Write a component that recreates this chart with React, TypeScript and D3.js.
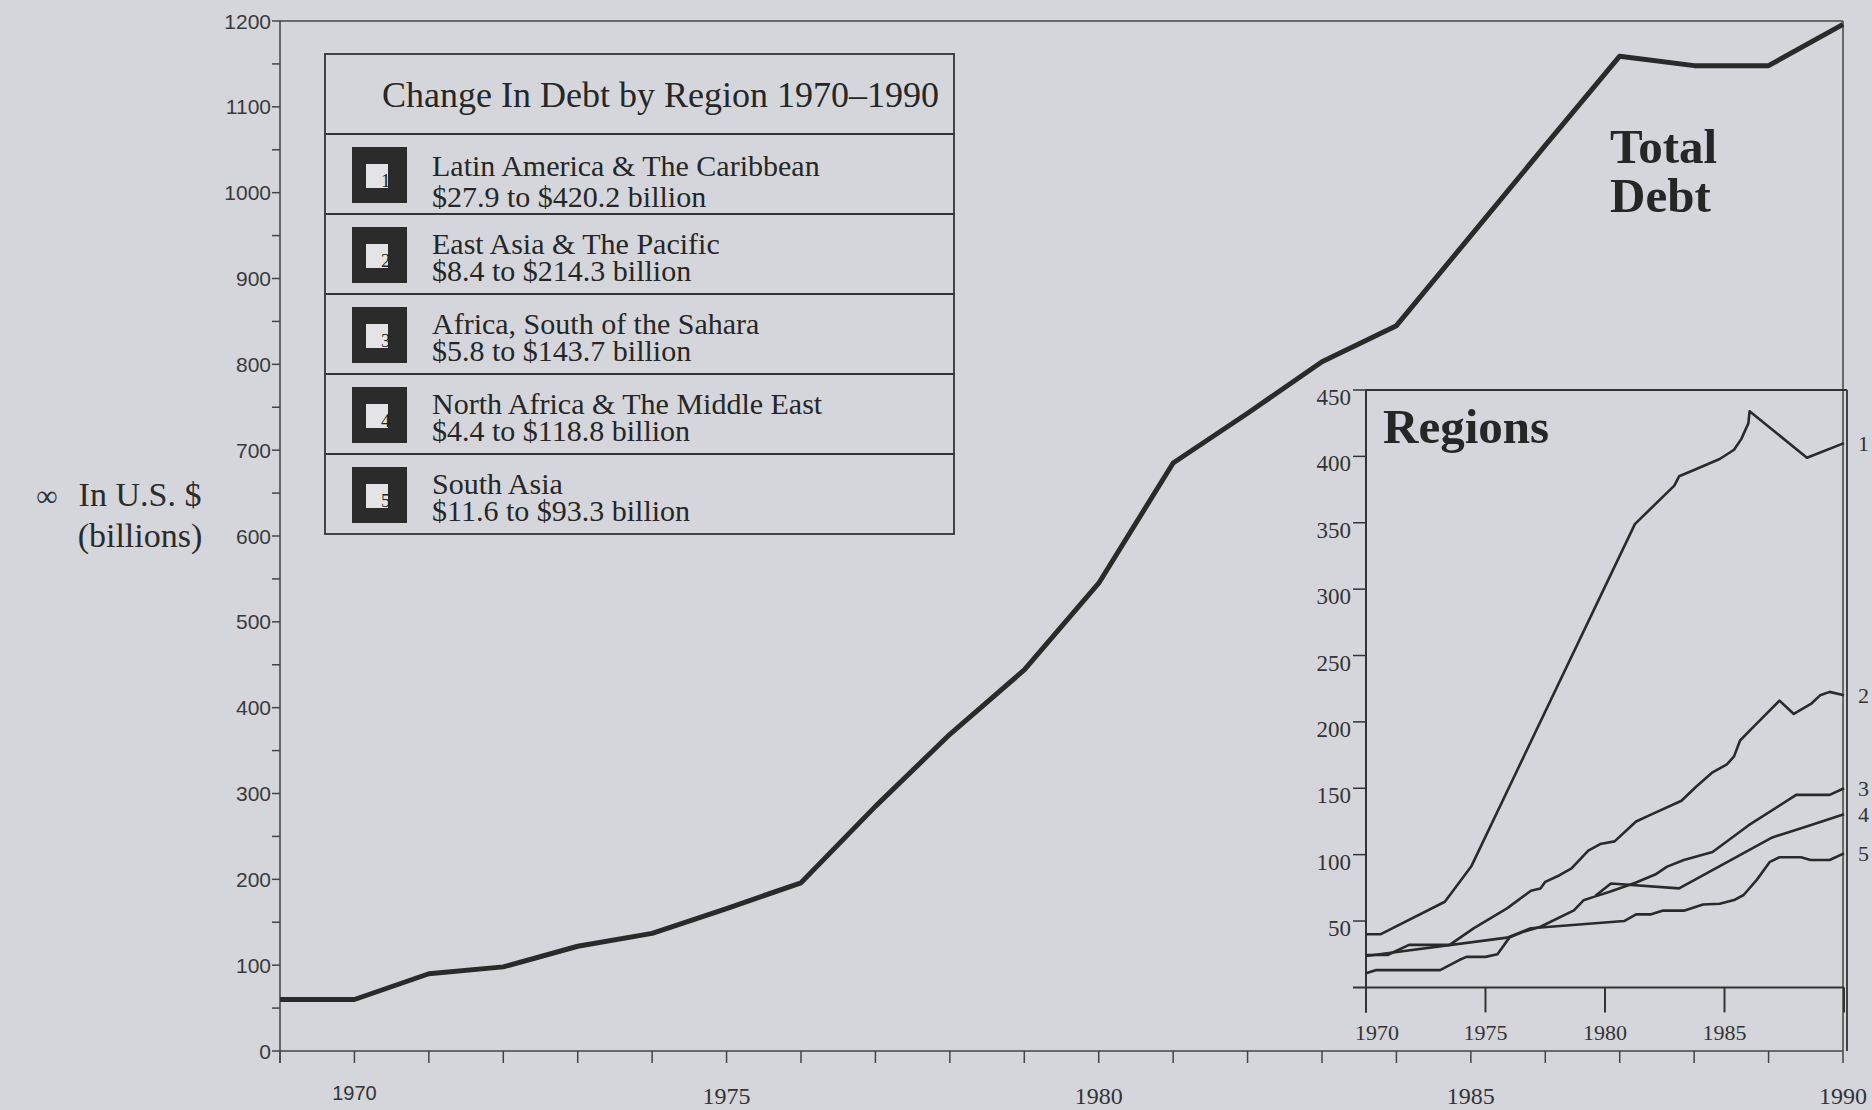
import React, { useEffect } from "react";
import * as d3 from "d3";

const W = 1872;
const H = 1110;
const PAPER = "#d5d6db";
const INK = "#2a2a2a";
const SERIF = "'Liberation Serif', 'Times New Roman', serif";
const SANS = "'Liberation Sans', Arial, sans-serif";

// total debt, billions of US$
const totalYears = [1969, 1970, 1971, 1972, 1973, 1974, 1975, 1976, 1977, 1978, 1979, 1980, 1981, 1982, 1983, 1984, 1985, 1986, 1987, 1988, 1989, 1990];
const totalDebt = [60, 60, 90, 98, 122, 137, 166, 196, 285, 369, 444, 545, 685, 743, 803, 845, 950, 1055, 1159, 1148, 1148, 1196];

const mainYTicks = [0, 50, 100, 150, 200, 250, 300, 350, 400, 450, 500, 550, 600, 650, 700, 750, 800, 850, 900, 950, 1000, 1050, 1100, 1150, 1200];
const mainYLabels = [0, 100, 200, 300, 400, 500, 600, 700, 800, 900, 1000, 1100, 1200];
const mainXLabels = [1970, 1975, 1980, 1985, 1990];

// regional series [year, billions]
const latinAmerica: [number, number][] = [
  [1970, 40], [1970.6, 40], [1973.3, 64.5], [1974.4, 91], [1981.25, 349], [1982.9, 378],
  [1983.1, 385], [1983.7, 389.5], [1984.8, 398], [1985.4, 405], [1985.7, 413], [1986.0, 425],
  [1986.05, 434], [1988.45, 399], [1990, 410],
];
const eastAsia: [number, number][] = [
  [1970, 24.4], [1970.9, 24.4], [1971.8, 32], [1973.5, 32], [1974.5, 44.5], [1975.9, 59.5],
  [1976.9, 72.8], [1977.3, 74.5], [1977.5, 79.5], [1978.1, 84.5], [1978.6, 89.6], [1979.3, 103],
  [1979.8, 108], [1980.4, 110], [1981.3, 125], [1981.9, 130], [1983.2, 140.6], [1983.8, 151],
  [1984.5, 162], [1985.1, 168], [1985.4, 174], [1985.65, 186], [1986.2, 196], [1987.3, 216],
  [1987.9, 206], [1988.65, 214], [1989.0, 220], [1989.4, 222.6], [1990, 220],
];
const africaSouth: [number, number][] = [
  [1970, 10.6], [1970.4, 13], [1973.1, 13], [1973.9, 20.6], [1974.2, 23], [1975.0, 23],
  [1975.5, 25], [1976, 37.5], [1976.6, 42], [1977.3, 45.7], [1978.7, 58], [1979.1, 65.6],
  [1979.5, 68], [1980.2, 72], [1981.3, 79], [1982.1, 85], [1982.6, 91], [1983.3, 96],
  [1984.5, 102], [1986.0, 122], [1988.0, 145], [1989.4, 145], [1990, 150],
];
const northAfrica: [number, number][] = [
  [1979.6, 69], [1980.25, 78.3], [1983.1, 74.6], [1987.0, 113], [1988.4, 121], [1990, 130.5],
];
const southAsia: [number, number][] = [
  [1970, 23.6], [1975.9, 37.5], [1976.9, 44.5], [1980.8, 50], [1981.3, 55], [1981.9, 55],
  [1982.4, 57.8], [1983.3, 57.8], [1984.1, 62.5], [1984.8, 63], [1985.4, 65.8], [1985.8, 69.6],
  [1986.35, 81], [1986.9, 94.6], [1987.3, 98], [1988.2, 98], [1988.6, 96], [1989.4, 96], [1990, 101],
];
const regionSeries = [latinAmerica, eastAsia, africaSouth, northAfrica, southAsia];
const seriesNumbers = ["1", "2", "3", "4", "5"];

const insetYLabels = [50, 100, 150, 200, 250, 300, 350, 400, 450];
const insetXTicks = [1970, 1975, 1980, 1985, 1990];
const insetXLabels = [1970, 1975, 1980, 1985];

const legendTitle = "Change In Debt by Region 1970\u20131990";
const legendNames = [
  "Latin America & The Caribbean",
  "East Asia & The Pacific",
  "Africa, South of the Sahara",
  "North Africa & The Middle East",
  "South Asia",
];
const legendRanges = [
  "$27.9 to $420.2 billion",
  "$8.4 to $214.3 billion",
  "$5.8 to $143.7 billion",
  "$4.4 to $118.8 billion",
  "$11.6 to $93.3 billion",
];

export default function App() {
  useEffect(() => {
    document.body.style.margin = "0";
    document.body.style.background = PAPER;
  }, []);

  // main chart
  const x = d3.scaleLinear().domain([1969, 1990]).range([280, 1843]);
  const y = d3.scaleLinear().domain([0, 1200]).range([1051, 21]);
  // inset
  const xi = d3.scaleLinear().domain([1970, 1990]).range([1366, 1844]);
  const yi = d3.scaleLinear().domain([0, 450]).range([987.4, 390]);

  const totalLine = d3
    .line<number>()
    .x((_, i) => x(totalYears[i]))
    .y((d) => y(d));
  const regionLine = d3
    .line<[number, number]>()
    .x((d) => xi(d[0]))
    .y((d) => yi(d[1]));

  const legend = { left: 325, right: 954, top: 54, head: 80, row: 80 };

  return (
    <svg
      width={W}
      height={H}
      style={{ display: "block", position: "absolute", left: 0, top: 0, background: PAPER }}
    >
      {/* frame of main chart */}
      <line x1={x(1969)} x2={x(1990)} y1={y(1200)} y2={y(1200)} stroke="#444" strokeWidth={1.5} />
      <line x1={x(1990)} x2={x(1990)} y1={y(1200)} y2={y(0)} stroke="#444" strokeWidth={1.5} />
      <line x1={x(1969)} x2={x(1969)} y1={y(1200)} y2={y(0) + 12} stroke="#444" strokeWidth={1.5} />
      <line x1={x(1969)} x2={x(1990)} y1={y(0)} y2={y(0)} stroke="#444" strokeWidth={1.5} />

      {mainYTicks.map((t) => (
        <line key={"yt" + t} x1={x(1969) - 8} x2={x(1969)} y1={y(t)} y2={y(t)} stroke="#444" strokeWidth={1.5} />
      ))}
      {mainYLabels.map((t) => (
        <text key={"yl" + t} x={x(1969) - 9} y={y(t)} dy="0.36em" textAnchor="end" fontFamily={SANS} fontSize={21} fill="#3a3a3a">
          {t}
        </text>
      ))}
      {totalYears.map((t) => (
        <line key={"xt" + t} x1={x(t)} x2={x(t)} y1={y(0)} y2={y(0) + 12} stroke="#444" strokeWidth={1.5} />
      ))}
      {mainXLabels.map((t) => (
        <text
          key={"xl" + t}
          x={x(t)}
          y={t === 1970 ? 1100 : 1104}
          textAnchor="middle"
          fontFamily={t === 1970 ? SANS : SERIF}
          fontSize={t === 1970 ? 20 : 24}
          fill="#333"
        >
          {t}
        </text>
      ))}

      {/* axis title */}
      <text x={47} y={497} dy="0.3em" textAnchor="middle" fontFamily={SERIF} fontSize={30} fill="#333">
        ∞
      </text>
      <text x={140} y={506} textAnchor="middle" fontFamily={SERIF} fontSize={34} fill="#2b2b2b">
        In U.S. $
      </text>
      <text x={140} y={547} textAnchor="middle" fontFamily={SERIF} fontSize={34} fill="#2b2b2b">
        (billions)
      </text>

      {/* total debt line */}
      <path d={totalLine(totalDebt) || ""} fill="none" stroke={INK} strokeWidth={5} strokeLinejoin="round" />
      <text x={1610} y={163} fontFamily={SERIF} fontWeight="bold" fontSize={49} fill="#262626">
        Total
      </text>
      <text x={1610} y={212} fontFamily={SERIF} fontWeight="bold" fontSize={49} fill="#262626">
        Debt
      </text>

      {/* legend box */}
      <g>
        <rect
          x={legend.left}
          y={legend.top}
          width={legend.right - legend.left}
          height={legend.head + legend.row * 5}
          fill="none"
          stroke="#333"
          strokeWidth={1.8}
        />
        <text x={382} y={107} fontFamily={SERIF} fontSize={36} fill="#262626">
          {legendTitle}
        </text>
        {legendNames.map((name, i) => {
          const top = legend.top + legend.head + i * legend.row;
          const iconTop = top + 13;
          const b1 = i === 0 ? 42 : 40;
          const b2 = i === 0 ? 73 : 67;
          return (
            <g key={name}>
              <line x1={legend.left} x2={legend.right} y1={top} y2={top} stroke="#333" strokeWidth={1.8} />
              <rect x={352} y={iconTop} width={55} height={56} fill="#2b2b2b" />
              <rect x={366} y={iconTop + 17} width={22} height={24} fill="#e4e4e6" />
              <text x={381} y={iconTop + 40} fontFamily={SERIF} fontSize={19} fill="#222">
                {seriesNumbers[i]}
              </text>
              <text x={432} y={top + b1} fontFamily={SERIF} fontSize={30} fill="#262626">
                {name}
              </text>
              <text x={432} y={top + b2} fontFamily={SERIF} fontSize={30} fill="#262626">
                {legendRanges[i]}
              </text>
            </g>
          );
        })}
      </g>

      {/* inset: regions */}
      <g>
        <line x1={xi(1970)} x2={1847} y1={yi(450)} y2={yi(450)} stroke="#333" strokeWidth={1.8} />
        <line x1={1847} x2={1847} y1={yi(450)} y2={y(0)} stroke="#333" strokeWidth={1.8} />
        <line x1={xi(1970)} x2={xi(1970)} y1={yi(450)} y2={yi(0) + 25} stroke="#333" strokeWidth={2} />
        <line x1={xi(1970) - 13} x2={xi(1990)} y1={yi(0)} y2={yi(0)} stroke="#333" strokeWidth={2} />
        {insetYLabels.map((t) => (
          <g key={"iy" + t}>
            <line x1={xi(1970) - 13} x2={xi(1970)} y1={yi(t)} y2={yi(t)} stroke="#333" strokeWidth={1.5} />
            <text x={xi(1970) - 15} y={yi(t) + 15} textAnchor="end" fontFamily={SERIF} fontSize={23} fill="#333">
              {t}
            </text>
          </g>
        ))}
        {insetXTicks.map((t) => (
          <line key={"ixt" + t} x1={xi(t)} x2={xi(t)} y1={yi(0)} y2={yi(0) + 25} stroke="#333" strokeWidth={2} />
        ))}
        {insetXLabels.map((t) => (
          <text
            key={"ix" + t}
            x={xi(t) + (t === 1970 ? 11 : 0)}
            y={1040}
            textAnchor="middle"
            fontFamily={SERIF}
            fontSize={22}
            fill="#333"
          >
            {t}
          </text>
        ))}
        <text x={1383} y={443} fontFamily={SERIF} fontWeight="bold" fontSize={49} fill="#262626">
          Regions
        </text>
        {regionSeries.map((s, i) => (
          <path
            key={"rs" + i}
            d={regionLine(s) || ""}
            fill="none"
            stroke={INK}
            strokeWidth={2.6}
            strokeLinejoin="round"
          />
        ))}
        {regionSeries.map((s, i) => (
          <text
            key={"rn" + i}
            x={1858}
            y={yi(s[s.length - 1][1])}
            dy="0.35em"
            fontFamily={SERIF}
            fontSize={22}
            fill="#333"
          >
            {seriesNumbers[i]}
          </text>
        ))}
      </g>
    </svg>
  );
}
